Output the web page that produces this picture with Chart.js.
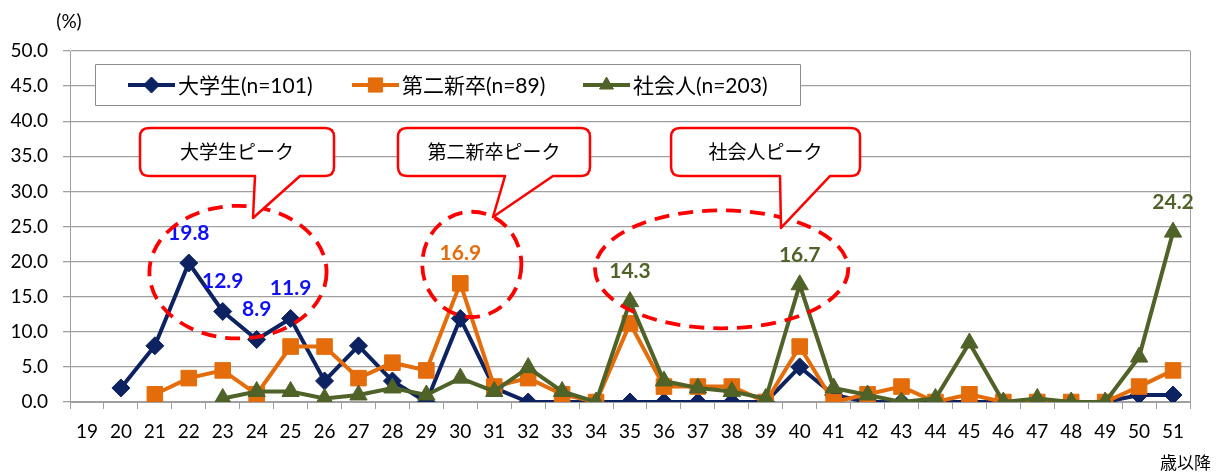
<!DOCTYPE html>
<html><head><meta charset="utf-8">
<script src="https://cdn.jsdelivr.net/npm/chart.js@4.4.1/dist/chart.umd.min.js"></script>
<style>html,body{margin:0;padding:0;background:#fff;}#wrap{width:1222px;height:472px;}</style>
</head><body><div id="wrap"><canvas id="c" width="1222" height="472"></canvas></div>
<script>
// ---- data ----
const categories = ['19','20','21','22','23','24','25','26','27','28','29','30','31','32','33','34','35','36','37','38','39','40','41','42','43','44','45','46','47','48','49','50','51'];
const yTicks = [0,5,10,15,20,25,30,35,40,45,50];
const seriesNames = ['大学生(n=101)','第二新卒(n=89)','社会人(n=203)'];
const univ   = [null,2.0,8.0,19.8,12.9,8.9,11.9,3.0,8.0,3.0,0.0,11.9,2.0,0.0,0.0,0.0,0.0,0.0,0.0,0.0,0.0,5.0,1.0,0.0,0.0,0.0,0.0,0.0,0.0,0.0,0.0,1.0,1.0];
const second = [null,null,1.1,3.4,4.5,1.1,7.9,7.9,3.4,5.6,4.5,16.9,2.2,3.4,1.1,0.0,11.2,2.2,2.2,2.2,0.0,7.9,0.0,1.1,2.2,0.0,1.1,0.0,0.0,0.0,0.0,2.2,4.5];
const worker = [null,null,null,null,0.5,1.5,1.5,0.5,1.0,2.0,1.0,3.4,1.5,4.9,1.5,0.0,14.3,3.0,2.0,1.5,0.5,16.7,2.0,1.0,0.0,0.5,8.4,0.0,0.5,0.0,0.0,6.4,24.2];
const univLabelCats   = ['22','23','24','25'];
const secondLabelCats = ['30'];
const workerLabelCats = ['35','40','51'];
const calloutTexts = ['大学生ピーク','第二新卒ピーク','社会人ピーク'];
const yUnit = '(%)';
const xUnit = '歳以降';

// ---- decoration (in category-index / value units) ----
const ellipses = [
  {cx:4.45, cy:18.5, rx:2.61, ry:9.45},
  {cx:11.34, cy:19.6, rx:1.46, ry:7.5},
  {cx:18.70, cy:18.9, rx:3.73, ry:8.4}
];
const callouts = [
  {l:1.563, r:7.279, t:39.03, b:32.19, bl:4.951, br:6.277, tx:4.892, ty:26.21},
  {l:9.164, r:14.821, t:39.03, b:32.19, bl:12.317, br:13.731, tx:11.963, ty:26.35},
  {l:17.211, r:22.777, t:39.03, b:32.19, bl:20.42, br:21.89, tx:20.449, ty:24.79}
];

const NUM = 'Lato, "Noto Sans CJK JP", sans-serif';
const JP = '"Noto Sans CJK JP", sans-serif';
const NAVY = '#0d2260', ORANGE = '#e46c0a', GREEN = '#4f6228';
const GRID = '#a0a0a0';

const datasets = [
  {label:seriesNames[0], data:univ, borderColor:NAVY, backgroundColor:NAVY, pointStyle:'rectRot', pointRadius:9, order:3, labelCats:univLabelCats, labelColor:'#1010f5'},
  {label:seriesNames[1], data:second, borderColor:ORANGE, backgroundColor:ORANGE, pointStyle:'rect', pointRadius:11, order:2, labelCats:secondLabelCats, labelColor:ORANGE},
  {label:seriesNames[2], data:worker, borderColor:GREEN, backgroundColor:GREEN, pointStyle:'triangle', pointRadius:10, order:1, labelCats:workerLabelCats, labelColor:GREEN}
].map(d => Object.assign({borderWidth:4, tension:0, pointBorderWidth:1, pointHoverRadius:d.pointRadius, spanGaps:false}, d));

function marker(ctx, style, x, y, r, color){
  ctx.save();
  ctx.fillStyle = color; ctx.strokeStyle = color; ctx.lineWidth = 1;
  ctx.beginPath();
  if (style === 'rectRot'){ ctx.moveTo(x, y-r); ctx.lineTo(x+r, y); ctx.lineTo(x, y+r); ctx.lineTo(x-r, y); }
  else if (style === 'rect'){ const s = r*Math.SQRT1_2; ctx.rect(x-s, y-s, 2*s, 2*s); }
  else { ctx.moveTo(x, y-r); ctx.lineTo(x+r*0.866, y+r*0.5); ctx.lineTo(x-r*0.866, y+r*0.5); }
  ctx.closePath(); ctx.fill(); ctx.stroke();
  ctx.restore();
}

const decor = {
  id:'decor',
  afterDatasetsDraw(chart){
    const ctx = chart.ctx, xs = chart.scales.x, ys = chart.scales.y, ca = chart.chartArea;
    const X = v => xs.getPixelForValue(v), Y = v => ys.getPixelForValue(v);
    ctx.save();
    // right border
    ctx.strokeStyle = GRID; ctx.lineWidth = 1;
    ctx.beginPath(); ctx.moveTo(Math.round(ca.right)+0.5, ca.top); ctx.lineTo(Math.round(ca.right)+0.5, ca.bottom); ctx.stroke();

    // data labels
    ctx.font = 'bold 21px ' + NUM; ctx.textAlign = 'center'; ctx.textBaseline = 'middle';
    chart.data.datasets.forEach(ds => {
      ds.labelCats.forEach(c => {
        const i = categories.indexOf(c);
        const v = ds.data[i];
        ctx.fillStyle = ds.labelColor;
        ctx.fillText(v.toFixed(1), X(i), Y(v) - 30);
      });
    });

    // ellipses
    ctx.strokeStyle = '#ff0000'; ctx.lineWidth = 3.8; ctx.setLineDash([15, 9]);
    ellipses.forEach(e => {
      const cx = X(e.cx), cy = Y(e.cy);
      const rx = X(e.cx + e.rx) - cx, ry = cy - Y(e.cy + e.ry);
      ctx.beginPath(); ctx.ellipse(cx, cy, rx, ry, 0, 0, Math.PI*2); ctx.stroke();
    });
    ctx.setLineDash([]);

    // callouts
    callouts.forEach((c, k) => {
      const l = X(c.l), r = X(c.r), t = Y(c.t), b = Y(c.b), bl = X(c.bl), br = X(c.br), tx = X(c.tx), ty = Y(c.ty);
      const rad = 9;
      ctx.beginPath();
      ctx.moveTo(l+rad, t);
      ctx.lineTo(r-rad, t); ctx.quadraticCurveTo(r, t, r, t+rad);
      ctx.lineTo(r, b-rad); ctx.quadraticCurveTo(r, b, r-rad, b);
      ctx.lineTo(br, b); ctx.lineTo(tx, ty); ctx.lineTo(bl, b);
      ctx.lineTo(l+rad, b); ctx.quadraticCurveTo(l, b, l, b-rad);
      ctx.lineTo(l, t+rad); ctx.quadraticCurveTo(l, t, l+rad, t);
      ctx.closePath();
      ctx.fillStyle = '#fff'; ctx.fill();
      ctx.strokeStyle = '#ff0000'; ctx.lineWidth = 2.5; ctx.lineJoin = 'round'; ctx.stroke();
      ctx.fillStyle = '#000'; ctx.font = '19px ' + JP; ctx.textAlign = 'center'; ctx.textBaseline = 'middle';
      ctx.fillText(calloutTexts[k], (l+r)/2, (t+b)/2);
    });

    // legend
    ctx.fillStyle = '#fff'; ctx.strokeStyle = '#8c8c8c'; ctx.lineWidth = 1;
    ctx.fillRect(95.5, 64.5, 705, 41); ctx.strokeRect(95.5, 64.5, 705, 41);
    const lx = [128, 352, 583], ly = 85;
    chart.data.datasets.forEach((ds, i) => {
      ctx.strokeStyle = ds.borderColor; ctx.lineWidth = 4;
      ctx.beginPath(); ctx.moveTo(lx[i], ly); ctx.lineTo(lx[i]+47, ly); ctx.stroke();
      marker(ctx, ds.pointStyle, lx[i]+23.5, ly, ds.pointStyle === 'rect' ? 10 : 8, ds.borderColor);
      ctx.fillStyle = '#000'; ctx.font = '21px ' + NUM; ctx.textAlign = 'left'; ctx.textBaseline = 'middle';
      ctx.fillText(ds.label, lx[i]+50, ly+1);
    });

    // units
    ctx.fillStyle = '#000'; ctx.font = '19px ' + NUM; ctx.textAlign = 'center'; ctx.textBaseline = 'middle';
    ctx.fillText(yUnit, 69, 22);
    ctx.font = '17px ' + JP; ctx.textAlign = 'right';
    ctx.fillText(xUnit, 1211, 463);
    ctx.restore();
  }
};

new Chart(document.getElementById('c'), {
  type:'line',
  data:{labels:categories, datasets},
  options:{
    responsive:false, animation:false, devicePixelRatio:1,
    layout:{padding:{left:0, right:32, top:51, bottom:0}},
    plugins:{legend:{display:false}, tooltip:{enabled:false}},
    scales:{
      x:{
        offset:true,
        grid:{offset:true, drawOnChartArea:false, drawTicks:true, tickLength:7, color:GRID, lineWidth:1},
        border:{color:GRID, width:1},
        ticks:{color:'#000', font:{family:NUM, size:19}, padding:11, maxRotation:0, autoSkip:false},
        afterFit(s){ s.height = 70; }
      },
      y:{
        min:0, max:50,
        afterBuildTicks(s){ s.ticks = yTicks.map(v => ({value:v})); },
        grid:{color:GRID, lineWidth:1.3, tickLength:7, drawTicks:true},
        border:{color:GRID, width:1},
        ticks:{color:'#000', font:{family:NUM, size:19}, padding:15, callback:v => Number(v).toFixed(1)},
        afterFit(s){ s.width = 70; }
      }
    }
  },
  plugins:[decor]
});
</script>
</body></html>
